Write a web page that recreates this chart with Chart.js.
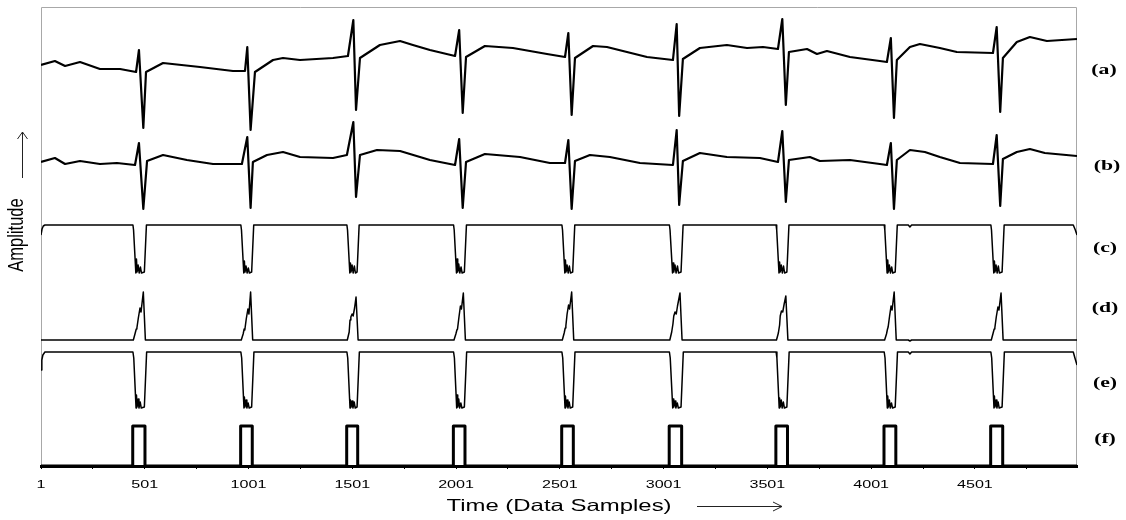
<!DOCTYPE html>
<html><head><meta charset="utf-8">
<script src="https://cdn.jsdelivr.net/npm/chart.js@4"></script>
<style>html,body{margin:0;padding:0;background:#fff;}canvas{display:block;}</style>
</head><body>
<canvas id="c" width="1126" height="520"></canvas>
<script>
// ---- data ----
const sampleTicks = [1,251,501,751,1001,1251,1501,1751,2001,2251,2501,2751,3001,3251,3501,3751,4001,4251,4501,4751];
const tickLabels = ['1','501','1001','1501','2001','2501','3001','3501','4001','4501'];
const traceNames = ['(a)','(b)','(c)','(d)','(e)','(f)'];
const xTitle = 'Time (Data Samples)';
const yTitle = 'Amplitude';

// (a) raw ECG
const traceA = [[1,401],[68,405],[117,400],[189,404],[285,397],[382,397],[459,394],[473,416],[494,338],[507,394],[589,403],[767,399],[926,395],[984,395],[995,419],[1011,336],[1032,394],[1119,406],[1167,408],[1249,406],[1408,408],[1480,410],[1506,446],[1519,356],[1538,408],[1634,421],[1731,425],[1793,421],[1875,416],[1996,410],[2016,436],[2033,353],[2049,409],[2140,420],[2275,418],[2439,412],[2526,409],[2542,433],[2558,351],[2574,408],[2661,420],[2728,419],[2805,415],[2921,409],[3046,406],[3064,442],[3076,350],[3094,407],[3176,418],[3306,421],[3403,418],[3480,419],[3552,417],[3573,447],[3590,361],[3605,414],[3692,417],[3740,412],[3788,415],[3899,409],[4043,405],[4077,404],[4096,428],[4111,348],[4125,406],[4188,419],[4236,422],[4332,418],[4414,414],[4588,413],[4606,439],[4623,354],[4636,408],[4703,424],[4766,429],[4848,425],[4993,427]];
// (b) filtered ECG
const traceB = [[1,304],[68,308],[117,302],[189,305],[285,302],[367,303],[454,301],[473,323],[494,257],[512,305],[589,311],[704,306],[830,302],[969,302],[995,329],[1011,258],[1022,304],[1090,311],[1167,314],[1249,309],[1408,308],[1475,311],[1506,344],[1519,269],[1538,311],[1620,316],[1731,315],[1875,306],[1996,301],[2016,327],[2033,258],[2049,304],[2140,312],[2309,309],[2453,303],[2526,303],[2542,326],[2558,257],[2574,305],[2646,311],[2742,309],[2887,303],[3046,301],[3064,336],[3076,261],[3094,305],[3176,313],[3306,309],[3465,308],[3552,304],[3573,335],[3590,264],[3605,306],[3706,309],[3754,305],[3899,306],[4043,302],[4077,301],[4096,323],[4111,257],[4125,306],[4188,316],[4260,314],[4332,309],[4429,303],[4588,302],[4606,331],[4623,260],[4636,307],[4703,314],[4766,317],[4838,313],[4993,310]];
// (c)
const traceC = [[1,231],[6,237],[12,240],[20,241],
[444,241],[447,236],[458,193],[461,207],[464,194],[469,201],[474,193],[480,199],[485,193],[499,194],[509,241],
[964,241],[967,236],[978,193],[981,205],[984,194],[989,200],[994,193],[1000,198],[1005,193],[1016,194],[1026,241],
[1475,241],[1478,236],[1489,193],[1492,203],[1495,194],[1500,201],[1505,193],[1511,200],[1516,193],[1524,194],[1534,241],
[1989,241],[1992,236],[2003,193],[2006,207],[2009,194],[2014,202],[2019,193],[2025,199],[2030,193],[2041,194],[2051,241],
[2511,241],[2514,236],[2525,193],[2528,206],[2531,194],[2536,201],[2541,193],[2547,200],[2552,193],[2563,194],[2573,241],
[3029,241],[3032,236],[3044,193],[3047,203],[3050,194],[3056,201],[3061,193],[3068,200],[3073,193],[3085,194],[3095,241],
[3543,241],[3546,236],[3557,193],[3560,204],[3563,194],[3568,201],[3573,193],[3579,200],[3584,193],[3595,194],[3605,241],
[4064,241],[4067,236],[4078,193],[4081,206],[4084,194],[4089,201],[4094,193],[4100,199],[4105,193],[4117,194],[4127,241],
[4180,241],[4188,239],[4196,241],
[4578,241],[4581,236],[4592,193],[4595,205],[4598,194],[4603,201],[4608,193],[4614,200],[4619,193],[4632,194],[4642,241],
[4975,241],[4985,236],[4993,231]];
// (d)
const traceD = [[1,126],
[446,126],[455,133],[460,137],[463,138],[470,148],[478,158],[483,154],[494,174],[504,126],
[966,126],[975,132],[980,137],[983,136],[990,147],[998,157],[1003,152],[1011,174],[1021,126],
[1477,126],[1486,134],[1490,146],[1494,149],[1500,152],[1505,150],[1512,158],[1519,169],[1529,126],
[1991,126],[2000,132],[2005,136],[2008,137],[2015,149],[2022,160],[2027,157],[2036,173],[2046,126],
[2513,126],[2522,133],[2527,138],[2530,140],[2536,152],[2543,161],[2548,157],[2558,174],[2568,126],
[3031,126],[3040,134],[3046,142],[3050,150],[3056,154],[3062,152],[3068,160],[3080,173],[3090,126],
[3545,126],[3554,133],[3560,141],[3563,150],[3569,155],[3575,154],[3582,162],[3590,170],[3600,126],
[4066,126],[4075,132],[4080,137],[4083,139],[4090,150],[4097,160],[4102,156],[4112,174],[4122,126],
[4180,126],[4188,125],[4196,126],
[4580,126],[4589,133],[4594,137],[4597,138],[4604,149],[4612,159],[4617,156],[4627,173],[4637,126],
[4993,126]];
// (e)
const traceE = [[1,96],[5,106],[10,111],[20,114],
[444,114],[448,108],[459,58],[461,71],[464,59],[469,67],[473,58],[479,64],[484,58],[499,59],[510,114],
[964,114],[968,108],[979,58],[981,69],[984,59],[989,66],[993,58],[999,63],[1004,58],[1016,59],[1027,114],
[1475,114],[1479,108],[1490,58],[1492,66],[1495,59],[1500,65],[1504,58],[1510,64],[1515,58],[1524,59],[1535,114],
[1989,114],[1993,108],[2004,58],[2006,71],[2009,59],[2014,67],[2018,58],[2024,63],[2029,58],[2041,59],[2052,114],
[2511,114],[2515,108],[2526,58],[2528,70],[2531,59],[2536,66],[2540,58],[2546,64],[2551,58],[2563,59],[2574,114],
[3029,114],[3033,108],[3045,58],[3047,67],[3050,59],[3056,65],[3060,58],[3067,63],[3072,58],[3085,59],[3096,114],
[3543,114],[3547,108],[3558,58],[3560,68],[3563,59],[3568,66],[3572,58],[3578,64],[3583,58],[3595,59],[3606,114],
[4064,114],[4068,108],[4079,58],[4081,70],[4084,59],[4089,66],[4093,58],[4099,63],[4104,58],[4117,59],[4128,114],
[4180,114],[4188,112],[4196,114],
[4578,114],[4582,108],[4593,58],[4595,70],[4598,59],[4603,66],[4607,58],[4613,64],[4618,58],[4632,59],[4643,114],
[4975,114],[4983,108],[4993,101]];
// (f) detected QRS pulses
const traceF = [[1,0],
[443,0],[443,40],[502,40],[502,0],
[963,0],[963,40],[1019,40],[1019,0],
[1474,0],[1474,40],[1527,40],[1527,0],
[1988,0],[1988,40],[2044,40],[2044,0],
[2510,0],[2510,40],[2566,40],[2566,0],
[3028,0],[3028,40],[3088,40],[3088,0],
[3542,0],[3542,40],[3598,40],[3598,0],
[4063,0],[4063,40],[4120,40],[4120,0],
[4577,0],[4577,40],[4635,40],[4635,0],
[4993,0]];

// ---- drawing ----
const toXY = arr => arr.map(p => ({x: p[0], y: p[1]}));
const series = [traceA, traceB, traceC, traceD, traceE, traceF];
const widths = [2.2, 2.2, 1.5, 1.5, 1.5, 3];

function sText(ctx, txt, x, y, font, sx, rot) {
  ctx.save();
  ctx.translate(x, y);
  ctx.scale(sx, 1);
  if (rot) ctx.rotate(rot);
  ctx.font = font;
  ctx.fillStyle = '#000';
  ctx.textAlign = 'center';
  ctx.textBaseline = 'middle';
  ctx.fillText(txt, 0, 0);
  ctx.restore();
}

const decor = {
  id: 'decor',
  beforeDatasetsDraw(chart) {
    const {ctx, chartArea: a} = chart;
    ctx.save();
    ctx.strokeStyle = '#a8a8a8';
    ctx.lineWidth = 1;
    ctx.beginPath();
    ctx.moveTo(a.left + 0.5, a.bottom);
    ctx.lineTo(a.left + 0.5, a.top + 0.5);
    ctx.lineTo(a.right - 0.5, a.top + 0.5);
    ctx.lineTo(a.right - 0.5, a.bottom);
    ctx.stroke();
    ctx.restore();
  },
  afterDraw(chart) {
    const ctx = chart.ctx;
    const xs = chart.scales.x;
    tickLabels.forEach(l => {
      sText(ctx, l, xs.getPixelForValue(Number(l)), 484.5, '11.5px "Liberation Sans"', 1.4);
    });
    sText(ctx, xTitle, (chart.chartArea.left + chart.chartArea.right) / 2, 506, '16.5px "Liberation Sans"', 1.45);
    sText(ctx, yTitle, 17, 235, '16.5px "Liberation Sans"', 1.3, -Math.PI / 2);
    const namePos = [[1104,70],[1107,166],[1105,248],[1105,308],[1105,383],[1105,439]];
    traceNames.forEach((n, i) => sText(ctx, n, namePos[i][0], namePos[i][1], 'bold 15px "Liberation Serif"', 1.45));
    ctx.save();
    ctx.strokeStyle = '#222';
    ctx.lineWidth = 1;
    ctx.beginPath();
    ctx.moveTo(697, 506.5); ctx.lineTo(782, 506.5);
    ctx.moveTo(773, 502); ctx.lineTo(782, 506.5); ctx.lineTo(773, 511);
    ctx.moveTo(22.5, 178); ctx.lineTo(22.5, 132);
    ctx.moveTo(17.5, 139); ctx.lineTo(22.5, 132); ctx.lineTo(27.5, 139);
    ctx.stroke();
    ctx.restore();
  }
};

new Chart(document.getElementById('c'), {
  type: 'line',
  data: {
    datasets: series.map((s, i) => ({
      label: traceNames[i],
      data: toXY(s),
      borderColor: '#000',
      borderWidth: widths[i],
      pointRadius: 0,
      tension: 0,
      fill: false,
      borderJoinStyle: 'round'
    }))
  },
  options: {
    responsive: false,
    animation: false,
    devicePixelRatio: 1,
    layout: {padding: {left: 41, right: 49, top: 7, bottom: 0}},
    plugins: {legend: {display: false}, tooltip: {enabled: false}},
    scales: {
      x: {
        type: 'linear', min: 1, max: 4993,
        afterBuildTicks: s => { s.ticks = sampleTicks.map(v => ({value: v})); },
        afterFit: s => { s.height = 54; },
        ticks: {display: false},
        grid: {display: true, drawOnChartArea: false, drawTicks: true, tickLength: 3, color: '#000', lineWidth: 1},
        border: {display: true, color: '#000', width: 3}
      },
      y: {type: 'linear', min: 0, max: 459, display: false}
    }
  },
  plugins: [decor]
});
</script>
</body></html>
